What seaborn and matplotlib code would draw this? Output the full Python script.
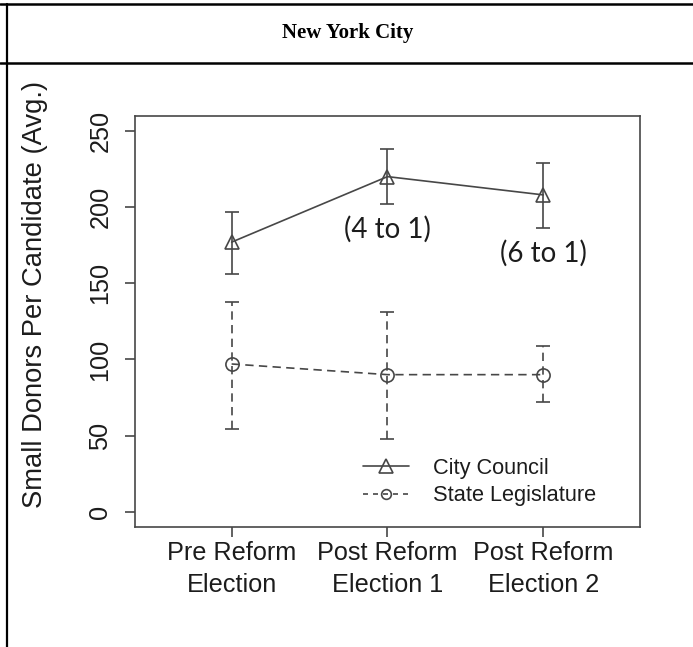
import numpy as np
import pandas as pd
import matplotlib.pyplot as plt
from matplotlib.lines import Line2D
import seaborn as sns

# values
elections = ['Pre Reform\nElection', 'Post Reform\nElection 1', 'Post Reform\nElection 2']
council_avg = [177, 220, 208]
council_lo = [156, 202, 186]
council_hi = [197, 238, 229]
state_avg = [97, 90, 90]
state_lo = [54, 48, 72]
state_hi = [138, 131, 109]
match_ratio = ['', '(4 to 1)', '(6 to 1)']
series_names = ['City Council', 'State Legislature']

sns.set_style('ticks')
plt.rcParams['font.family'] = ['Liberation Sans', 'DejaVu Sans']

line_col = '#474747'
text_col = '#1c1c1c'
pos = np.arange(1, len(elections) + 1)

df = pd.DataFrame({
    'pos': np.concatenate([pos, pos]),
    'avg': council_avg + state_avg,
    'series': [series_names[0]] * 3 + [series_names[1]] * 3,
})

fig = plt.figure(figsize=(6.93, 6.47), dpi=100)
ax = fig.add_axes([0.1948, 0.1855, 0.7287, 0.6357])

sns.lineplot(data=df, x='pos', y='avg', style='series',
             markers={'City Council': '^', 'State Legislature': 'o'},
             dashes={'City Council': '', 'State Legislature': (5, 3.2)},
             color=line_col, lw=1.2, markersize=9.5, mfc='none',
             mec=line_col, mew=1.2, legend=False, ax=ax)

# error bars
for avg, lo, hi, dashed in [(council_avg, council_lo, council_hi, False),
                            (state_avg, state_lo, state_hi, True)]:
    avg = np.array(avg)
    err = [avg - np.array(lo), np.array(hi) - avg]
    eb = ax.errorbar(pos, avg, yerr=err, fmt='none', ecolor=line_col,
                     elinewidth=1.2, capsize=4.8, capthick=1.2)
    if dashed:
        eb[2][0].set_linestyle((0, (5, 3.2)))

# match ratio notes under the council bars
for p, lo, txt in zip(pos, council_lo, match_ratio):
    if txt:
        ax.text(p, lo - 16.5, txt, ha='center', va='center',
                fontsize=20, family='Lato', color=text_col)

ax.set_xlim(0.38, 3.62)
ax.set_ylim(-10, 260)
ax.set_xticks(pos, elections)
ax.set_yticks(np.arange(0, 251, 50))
ax.set_xlabel('')
ax.set_ylabel('Small Donors Per Candidate (Avg.)', fontsize=19.7, color=text_col)
ax.yaxis.label.set_va('center')
ax.yaxis.set_label_coords(-0.198, 0.566)

ax.tick_params(axis='both', length=7.2, width=1.2, color=line_col,
               labelsize=18.2, labelcolor=text_col)
ax.tick_params(axis='x', pad=3)
ax.tick_params(axis='y', pad=9)
plt.setp(ax.get_yticklabels(), rotation=90, va='center')
plt.setp(ax.get_xticklabels(), linespacing=1.4)
for s in ax.spines.values():
    s.set_visible(True)
    s.set_color(line_col)
    s.set_linewidth(1.2)

handles = [
    Line2D([], [], color=line_col, lw=1.2, marker='^', ms=9.5, mfc='none', mec=line_col, mew=1.2),
    Line2D([], [], color=line_col, lw=1.2, ls=(0, (3, 3)), marker='o', ms=7, mfc='none', mec=line_col, mew=1.2),
]
ax.legend(handles, series_names, loc='upper left', bbox_to_anchor=(0.4515, 0.168),
          frameon=False, fontsize=15.7, handlelength=2.1, handletextpad=1.1,
          labelspacing=0.3, borderpad=0, borderaxespad=0, labelcolor=text_col)

# table cell borders and heading
fig.add_artist(Line2D([0, 1], [1 - 3.5 / 647] * 2, transform=fig.transFigure, color='k', lw=1.8))
fig.add_artist(Line2D([0, 1], [1 - 63 / 647] * 2, transform=fig.transFigure, color='k', lw=1.8))
fig.add_artist(Line2D([6.5 / 693] * 2, [0, 1 - 3.5 / 647], transform=fig.transFigure, color='k', lw=1.6))
fig.text(348 / 693, 1 - 33 / 647, 'New York City', ha='center', va='center',
         fontsize=15, fontweight='bold', family='Liberation Serif', color='k')

fig.savefig('out.png', dpi=100)
